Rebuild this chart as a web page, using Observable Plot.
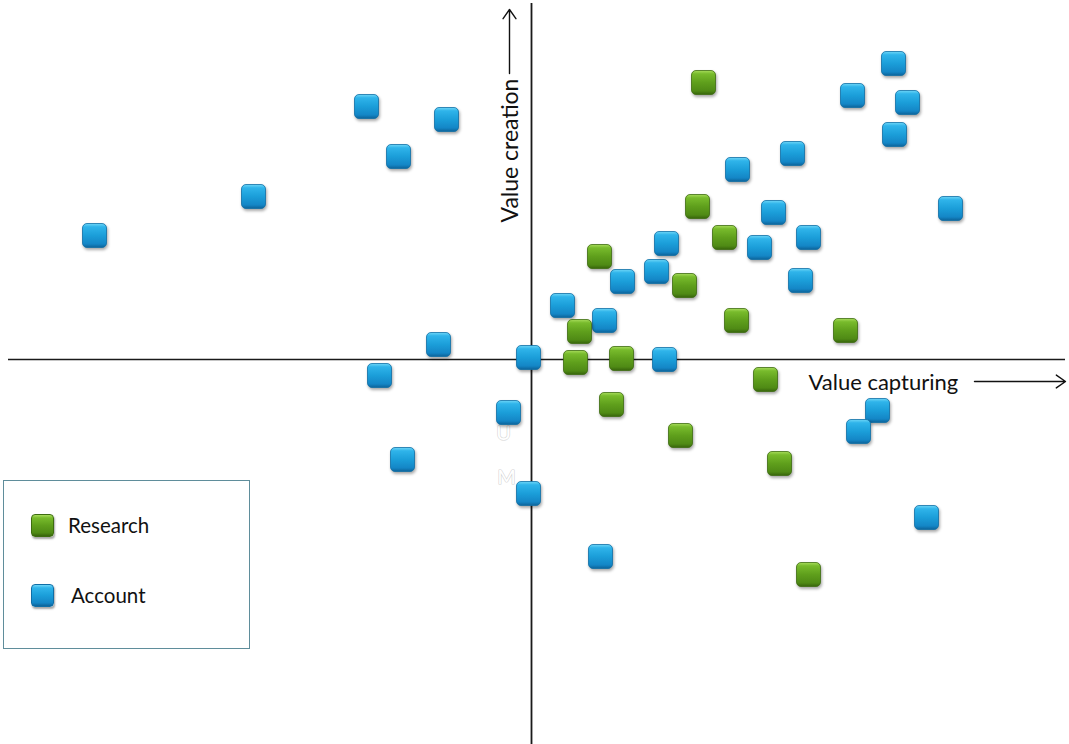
<!DOCTYPE html>
<html>
<head>
<meta charset="utf-8">
<script src="https://cdn.jsdelivr.net/npm/d3@7"></script>
<script src="https://cdn.jsdelivr.net/npm/@observablehq/plot@0.6"></script>
<style>
  html, body { margin: 0; padding: 0; background: #fff; }
  #wrap { position: relative; width: 1069px; height: 744px; overflow: hidden; font-family: Lato, "Open Sans", sans-serif; }
  #wrap svg { position: absolute; left: 0; top: 0; }
  .sq path { filter: drop-shadow(1px 2.5px 1.5px rgba(0,0,0,0.35)); }
  #legend { position: absolute; left: 3px; top: 480px; width: 245px; height: 167px; border: 1px solid #5f8d9b; background: transparent; }
  .lsq { position: absolute; width: 23px; height: 23px; border-radius: 4px; box-shadow: 1px 2px 2px rgba(0,0,0,0.35); }
  .ltxt { position: absolute; font-size: 20.5px; color: #111; white-space: nowrap; }
</style>
</head>
<body>
<div id="wrap"><div id="legend"></div></div>
<script>
// ---- Data (value capturing = x, value creation = y) ----
const researchX = [17.2, 16.6, 19.3, 6.8, 15.3, 20.5, 31.4, 4.8, 4.4, 9.0, 23.4, 8.0, 14.9, 24.8, 27.7];
const researchY = [27.7, 15.3, 12.2, 10.3, 7.4, 3.9, 2.9, 2.8, -0.3, 0.1, -2.0, -4.5, -7.6, -10.4, -21.5];
const accountX = [-43.7, -27.8, -16.5, -8.5, -13.3, -9.3, -15.2, -12.9, -2.3, -0.3, -0.3, 3.1, 7.3, 9.1, 12.5, 13.5,
                  13.3, 6.9, 20.6, 24.2, 26.1, 22.8, 27.7, 26.9, 32.1, 36.2, 37.6, 36.3, 41.9, 34.6, 32.7, 39.5];
const accountY = [12.4, 16.3, 25.3, 24.0, 20.3, 1.5, -1.6, -10.0, -5.3, 0.2, -13.4, 5.4, 3.9, 7.8, 8.8, 11.6,
                  0, -19.7, 19.0, 14.7, 20.6, 11.2, 12.2, 7.9, 26.4, 29.6, 25.7, 22.5, 15.1, -5.1, -7.2, -15.8];
const seriesNames = ["Research", "Account"];

// axis extents and annotations (data units)
const xDomain = [-53.1, 53.8];
const yDomain = [-38.5, 35.9];
const hAxisSpan = [-52.3, 53.4];
const vAxisSpan = [-38.5, 35.6];
const xLabel = {text: "Value capturing", x: 27.7, y: -2.3};
const xArrow = {x1: 44.3, x2: 53.4, y: -2.2};
const yLabel = {text: "Value creation", x: -2.1, y: 13.7};
const yArrow = {x: -2.2, y1: 28.6, y2: 35.0};
const ghostLabels = [{text: "U", x: -2.8, y: -7.4}, {text: "M", x: -2.5, y: -11.8}];

const research = researchX.map((x, i) => ({x, y: researchY[i], series: seriesNames[0]}));
const account = accountX.map((x, i) => ({x, y: accountY[i], series: seriesNames[1]}));

// rounded square symbol
const roundSquare = {
  draw(ctx, size) {
    const h = Math.sqrt(size / Math.PI), rr = 4.5;
    ctx.moveTo(-h + rr, -h);
    ctx.lineTo(h - rr, -h);
    ctx.arcTo(h, -h, h, -h + rr, rr);
    ctx.lineTo(h, h - rr);
    ctx.arcTo(h, h, h - rr, h, rr);
    ctx.lineTo(-h + rr, h);
    ctx.arcTo(-h, h, -h, h - rr, rr);
    ctx.lineTo(-h, -h + rr);
    ctx.arcTo(-h, -h, -h + rr, -h, rr);
    ctx.closePath();
  }
};

const chart = Plot.plot({
  width: 1069,
  height: 744,
  margin: 0,
  style: {background: "transparent", fontFamily: "Lato, 'Open Sans', sans-serif"},
  x: {domain: xDomain, axis: null},
  y: {domain: yDomain, axis: null},
  marks: [
    Plot.ruleY([0], {x1: hAxisSpan[0], x2: hAxisSpan[1], stroke: "#1a1a1a", strokeWidth: 1.6}),
    Plot.ruleX([0], {y1: vAxisSpan[0], y2: vAxisSpan[1], stroke: "#1a1a1a", strokeWidth: 1.8}),
    Plot.text(ghostLabels, {x: "x", y: "y", text: "text", fill: "#ffffff", stroke: "#d4d4d4", strokeWidth: 1.2, paintOrder: "stroke", fontSize: 20}),
    Plot.dot(account, {x: "x", y: "y", r: 12, symbol: roundSquare, fill: "url(#gBlue)", stroke: "#0f6ea6", strokeWidth: 0.8, className: "sq"}),
    Plot.dot(research, {x: "x", y: "y", r: 12, symbol: roundSquare, fill: "url(#gGreen)", stroke: "#3d6c10", strokeWidth: 0.8, className: "sq"}),
    Plot.text([xLabel], {x: "x", y: "y", text: "text", textAnchor: "start", fontSize: 22, fill: "#111"}),
    Plot.arrow([xArrow], {x1: "x1", x2: "x2", y1: "y", y2: "y", stroke: "#111", strokeWidth: 1.4, headLength: 12, headAngle: 70}),
    Plot.text([yLabel], {x: "x", y: "y", text: "text", rotate: -90, textAnchor: "start", fontSize: 23, fill: "#111"}),
    Plot.arrow([yArrow], {x1: "x", x2: "x", y1: "y1", y2: "y2", stroke: "#111", strokeWidth: 1.4, headLength: 12, headAngle: 70})
  ]
});

// gradients
const svg = d3.select(chart);
const defs = svg.insert("defs", ":first-child");
function grad(id, stops) {
  const g = defs.append("linearGradient").attr("id", id).attr("x1", 0).attr("y1", 0).attr("x2", 0).attr("y2", 1);
  stops.forEach(([o, c]) => g.append("stop").attr("offset", o).attr("stop-color", c));
}
grad("gBlue", [[0, "#6fd6f7"], [0.14, "#2fb4ea"], [0.5, "#1b9ed9"], [0.85, "#1486c6"], [1, "#0c6399"]]);
grad("gGreen", [[0, "#a8dc5c"], [0.14, "#78bb2c"], [0.5, "#5f9f1c"], [0.85, "#4f8a15"], [1, "#37640b"]]);

document.getElementById("wrap").prepend(chart);

// legend overlay
const legend = document.getElementById("legend");
const cssGrad = {
  Research: "linear-gradient(#a8dc5c 0%, #78bb2c 14%, #5f9f1c 50%, #4f8a15 85%, #37640b 100%)",
  Account: "linear-gradient(#6fd6f7 0%, #2fb4ea 14%, #1b9ed9 50%, #1486c6 85%, #0c6399 100%)"
};
const legendBorder = {Research: "#3d6c10", Account: "#0f6ea6"};
const legendRows = [{top: 33, textLeft: 64, textTop: 32}, {top: 103, textLeft: 67, textTop: 102}];
seriesNames.forEach((name, i) => {
  const row = legendRows[i];
  const sq = document.createElement("div");
  sq.className = "lsq";
  sq.style.left = "27px";
  sq.style.top = row.top + "px";
  sq.style.background = cssGrad[name];
  sq.style.border = "0.8px solid " + legendBorder[name];
  sq.style.boxSizing = "border-box";
  legend.appendChild(sq);
  const t = document.createElement("div");
  t.className = "ltxt";
  t.style.left = row.textLeft + "px";
  t.style.top = row.textTop + "px";
  t.textContent = name;
  legend.appendChild(t);
});
</script>
</body>
</html>
